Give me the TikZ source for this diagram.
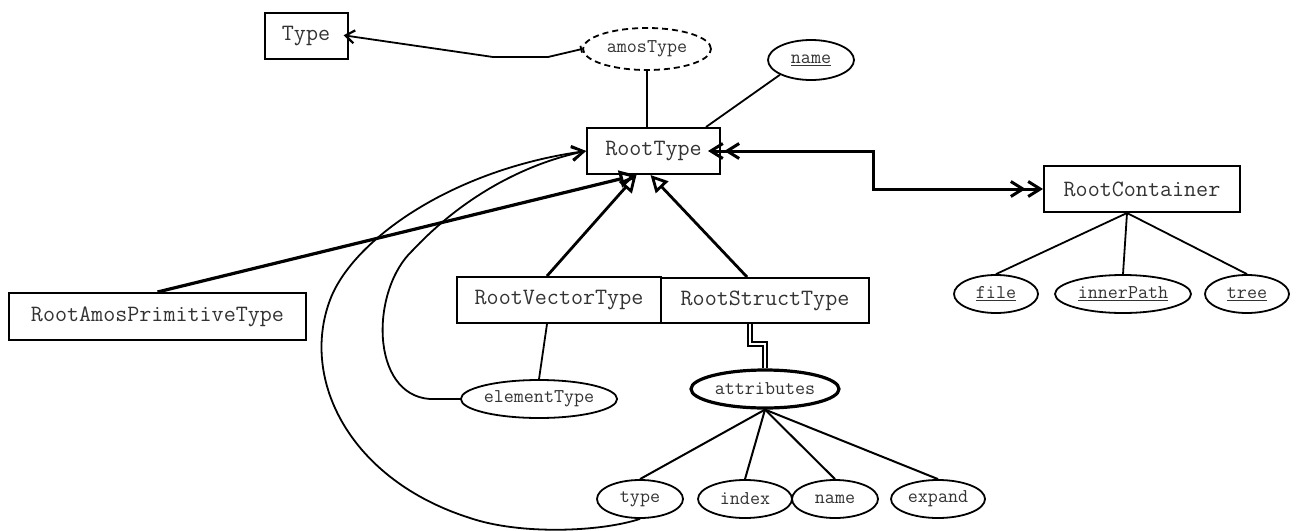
\documentclass[tikz,border=0pt]{standalone}
\usepackage{fontspec}
\usetikzlibrary{shapes.geometric,arrows.meta}
\begin{document}
\begin{tikzpicture}[x=1pt,y=-1pt,
  entity/.style={draw, rectangle, line width=2pt, inner sep=0pt,
    font=\ttfamily\fontsize{23.4}{26}\selectfont, text=black!80},
  attr/.style={draw, ellipse, line width=1.8pt, inner sep=0pt,
    minimum height=38pt, font=\ttfamily\fontsize{19.5}{22}\selectfont, text=black!80},
  link/.style={line width=1.8pt},
  barb/.style={-{Straight Barb[length=12pt,width=14pt,line width=2.2pt]}},
  dblbarb/.style={{Straight Barb[length=12pt,width=15pt,sep=4pt]Straight Barb[length=12pt,width=15pt]}-{Straight Barb[length=12pt,width=15pt,sep=1pt]Straight Barb[length=12pt,width=15pt]}},
  isa/.style={-{Triangle[open,length=17pt,width=17pt]}}
]
\useasboundingbox (0,0) rectangle (1303,530);

% entities
\node[entity, minimum width=83pt, minimum height=46pt] (Type) at (306,36) {Type};
\node[entity, minimum width=133pt, minimum height=46pt] (RootType) at (653.5,151) {RootType};
\node[entity, minimum width=196pt, minimum height=46pt] (RootContainer) at (1142,189) {RootContainer};
\node[entity, minimum width=297pt, minimum height=47pt] (RootAmos) at (157.5,316.5) {RootAmosPrimitiveType};
\node[entity, minimum width=204pt, minimum height=46pt] (RootVector) at (559,300) {RootVectorType};
\node[entity, minimum width=208pt, minimum height=45pt] (RootStruct) at (765,300.5) {RootStructType};

% attributes
\node[attr, dash pattern=on 6pt off 4pt, minimum width=128pt, minimum height=42pt] (amosType) at (647,49) {amosType};
\node[attr, minimum width=86pt, minimum height=40pt] (keyname) at (811,60) {\underline{name}};
\node[attr, minimum width=84pt] (file) at (996,294) {\underline{file}};
\node[attr, minimum width=136pt] (innerPath) at (1123,294) {\underline{innerPath}};
\node[attr, minimum width=84pt] (tree) at (1247,294) {\underline{tree}};
\node[attr, minimum width=156pt] (elementType) at (539,399) {elementType};
\node[attr, line width=3.2pt, minimum width=148pt] (attributes) at (765,389) {attributes};
\node[attr, minimum width=86pt] (type) at (640,499) {type};
\node[attr, minimum width=94pt] (index) at (745,499) {index};
\node[attr, minimum width=86pt] (fieldname) at (835,499) {name};
\node[attr, minimum width=94pt] (expand) at (938,499) {expand};

% amosType refers to Type
\coordinate (k1) at (548,57);
\coordinate (k2) at (493,57);
\draw[link, {Bar[width=7pt]}-{Straight Barb[length=9pt,width=13pt,line width=2.2pt]}, shorten >=-5pt]
  (amosType.west) -- (k1) -- (k2) -- (Type.east);

% attributes of RootType
\draw[link] (amosType.south) -- (amosType.south |- RootType.north);
\draw[link] (keyname.south west) -- ([xshift=-15pt]RootType.north east);

% RootType <-> RootContainer
\coordinate (elbow) at (873,0);
\draw[line width=3pt, dblbarb, shorten <=-17pt]
  (RootType.east) -- (RootType.east -| elbow) -- (elbow |- RootContainer.west) -- (RootContainer.west);

% attributes of RootContainer
\coordinate (rcfoot) at ([xshift=-15pt]RootContainer.south);
\draw[link] (rcfoot) -- (file.north);
\draw[link] (rcfoot) -- (innerPath.north);
\draw[link] (rcfoot) -- (tree.north);

% specialisations of RootType
\draw[line width=3.2pt, isa] (RootAmos.north) -- ([xshift=-17pt]RootType.south);
\draw[line width=2.8pt, isa] ([xshift=-12pt]RootVector.north) -- ([xshift=-17pt]RootType.south);
\draw[line width=2.8pt, isa] ([xshift=-18pt]RootStruct.north) -- ([xshift=-3pt]RootType.south);

% RootVectorType element type
\draw[link] ([xshift=-12pt]RootVector.south) -- (elementType.north);
\draw[link, barb] (elementType.west) -- (430,399)
  .. controls (370,395) and (370,290) .. (413,250)
  .. controls (460,200) and (520,165) .. (RootType.west);

% RootStructType attributes (multivalued)
\draw[line width=1.3pt, double, double distance=2.5pt]
  ([xshift=-15pt]RootStruct.south) -- ++(0,20) -| (attributes.north);
\draw[line width=2pt] (attributes.south) -- (type.north);
\draw[line width=2pt] (attributes.south) -- (index.north);
\draw[line width=2pt] (attributes.south) -- (fieldname.north);
\draw[line width=2pt] (attributes.south) -- (expand.north);

% type refers back to RootType
\draw[link, barb] (type.south)
  .. controls (600,532) and (520,535) .. (470,518)
  .. controls (350,480) and (300,380) .. (330,300)
  .. controls (352,241) and (450,170) .. (RootType.west);
\end{tikzpicture}
\end{document}
